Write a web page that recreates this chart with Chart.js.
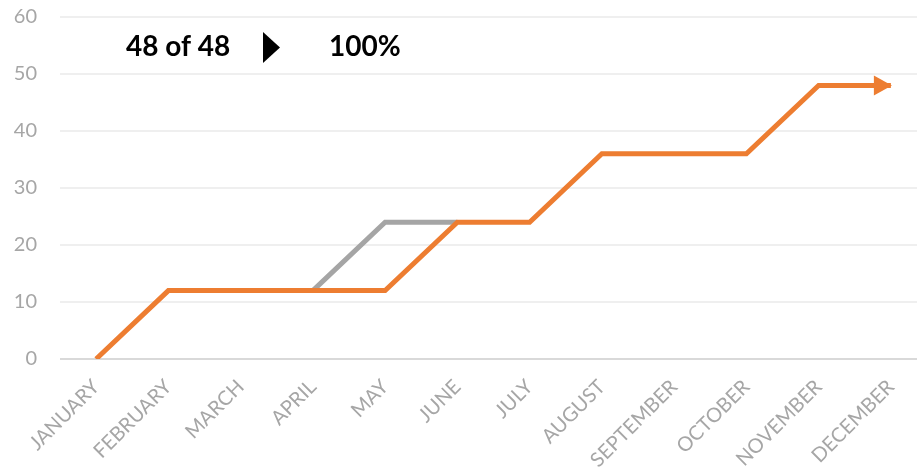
<!DOCTYPE html>
<html>
<head>
<meta charset="utf-8">
<script src="https://cdn.jsdelivr.net/npm/chart.js@4"></script>
<style>
  html, body { margin: 0; padding: 0; background: #fff; overflow: hidden; }
  #wrap { width: 917px; height: 470px; overflow: hidden; }
</style>
</head>
<body>
<div id="wrap"><canvas id="chart" width="927" height="470"></canvas></div>
<script>
const months = ['JANUARY', 'FEBRUARY', 'MARCH', 'APRIL', 'MAY', 'JUNE', 'JULY', 'AUGUST', 'SEPTEMBER', 'OCTOBER', 'NOVEMBER', 'DECEMBER']
const actual = [0, 12, 12, 12, 12, 24, 24, 36, 36, 36, 48, 48]
const planned = [null, null, null, 12, 24, 24, null, null, null, null, null, null]
const yTicks = [0, 10, 20, 30, 40, 50, 60]
const done = 48
const total = 48

const orange = '#ED7D31'
const grey = '#A5A5A5'
const font = 'Lato, "Open Sans", sans-serif'

// arrow head at the end of the orange line + header text
const extras = {
  id: 'extras',
  afterDatasetsDraw(chart) {
    const ctx = chart.ctx
    const pts = chart.getDatasetMeta(0).data
    const end = pts[pts.length - 1]
    ctx.save()
    ctx.fillStyle = orange
    ctx.beginPath()
    ctx.moveTo(end.x + 1, end.y)
    ctx.lineTo(end.x - 17, end.y - 10)
    ctx.lineTo(end.x - 17, end.y + 10)
    ctx.closePath()
    ctx.fill()

    ctx.fillStyle = '#000'
    ctx.font = 'bold 28px ' + font
    ctx.textBaseline = 'middle'
    ctx.fillText(done + ' of ' + total, 126, 47)
    ctx.fillText(Math.round(done / total * 100) + '%', 329, 47)
    ctx.beginPath()
    ctx.moveTo(263, 32)
    ctx.lineTo(280, 47.5)
    ctx.lineTo(263, 63)
    ctx.closePath()
    ctx.fill()
    ctx.restore()
  }
}

new Chart(document.getElementById('chart').getContext('2d'), {
  type: 'line',
  data: {
    labels: months,
    datasets: [{
      label: 'Actual',
      data: actual,
      borderColor: orange,
      borderWidth: 5,
      pointRadius: 0,
      tension: 0,
      order: 0
    }, {
      label: 'Planned',
      data: planned,
      borderColor: grey,
      borderWidth: 5,
      pointRadius: 0,
      tension: 0,
      order: 1
    }]
  },
  options: {
    responsive: false,
    animation: false,
    layout: { padding: { top: 17, right: 0, left: 0, bottom: 0 } },
    plugins: { legend: { display: false }, tooltip: { enabled: false } },
    scales: {
      x: {
        offset: true,
        grid: { display: false },
        border: { display: false },
        ticks: {
          minRotation: 45,
          maxRotation: 45,
          color: '#A6A6A6',
          font: { family: font, size: 20 },
          padding: 8
        },
        afterFit(scale) {
          scale.height = 111
          scale.paddingLeft = 0
          scale.paddingRight = 0
        }
      },
      y: {
        min: 0,
        max: 60,
        afterBuildTicks(scale) { scale.ticks = yTicks.map(v => ({ value: v })) },
        grid: {
          color: ctx => ctx.tick && ctx.tick.value === 0 ? '#D9D9D9' : '#EFEFEF',
          lineWidth: 2,
          drawTicks: false
        },
        border: { display: false },
        ticks: {
          color: '#A6A6A6',
          font: { family: font, size: 20 },
          padding: 23
        },
        afterFit(scale) {
          scale.width = 60
          scale.paddingTop = 0
          scale.paddingBottom = 0
        }
      }
    }
  },
  plugins: [extras]
})
</script>
</body>
</html>
